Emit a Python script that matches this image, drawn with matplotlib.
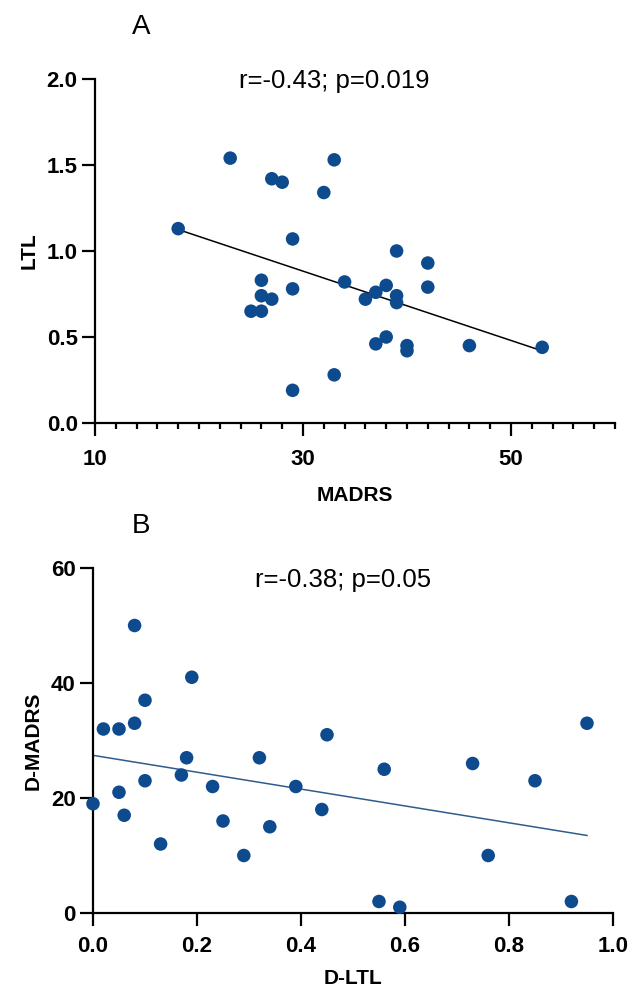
import matplotlib
matplotlib.use("Agg")
import matplotlib.pyplot as plt
import numpy as np
from matplotlib.ticker import MultipleLocator

plt.rcParams['font.family'] = ['Liberation Sans', 'DejaVu Sans']

# panel A: MADRS vs LTL
madrs = [18, 23, 27, 28, 33, 32, 29, 26, 29, 26, 27, 25, 26, 34, 33, 29,
         39, 42, 42, 38, 37, 36, 39, 39, 37, 38, 40, 40, 46, 53]
ltl = [1.13, 1.54, 1.42, 1.40, 1.53, 1.34, 1.07, 0.83, 0.78, 0.74, 0.72, 0.65,
       0.65, 0.82, 0.28, 0.19, 1.00, 0.93, 0.79, 0.80, 0.76, 0.72, 0.74, 0.70,
       0.46, 0.50, 0.45, 0.42, 0.45, 0.44]
stat_a = "r=-0.43; p=0.019"

# panel B: D-LTL vs D-MADRS
d_ltl = [0.00, 0.02, 0.05, 0.08, 0.08, 0.10, 0.05, 0.06, 0.10, 0.13, 0.19,
         0.18, 0.17, 0.23, 0.25, 0.29, 0.32, 0.34, 0.39, 0.44, 0.45, 0.56,
         0.55, 0.59, 0.73, 0.76, 0.85, 0.92, 0.95]
d_madrs = [19, 32, 32, 50, 33, 37, 21, 17, 23, 12, 41, 27, 24, 22, 16, 10, 27,
           15, 22, 18, 31, 25, 2, 1, 26, 10, 23, 2, 33]
stat_b = "r=-0.38; p=0.05"

dot_color = '#0e4a8e'


def style_axes(ax, xpad=6):
    for side in ['top', 'right']:
        ax.spines[side].set_visible(False)
    for side in ['left', 'bottom']:
        ax.spines[side].set_linewidth(1.6)
    ax.tick_params(which='major', direction='out', length=9.5, width=1.6,
                   labelsize=16, pad=3)
    ax.tick_params(axis='x', which='major', pad=xpad)
    ax.tick_params(which='minor', direction='out', length=4.5, width=1.6)
    for lab in ax.get_xticklabels() + ax.get_yticklabels():
        lab.set_fontweight('bold')


def scatter_fit(ax, x, y, line_color):
    x = np.asarray(x, dtype=float)
    y = np.asarray(y, dtype=float)
    ax.scatter(x, y, s=95, color=dot_color, edgecolors='none', zorder=3,
               clip_on=False)
    k, b = np.polyfit(x, y, 1)
    xx = np.array([x.min(), x.max()])
    ax.plot(xx, k * xx + b, color=line_color, lw=1.1, zorder=2)


fig = plt.figure(figsize=(6.3, 9.9), dpi=100)

# ---- A
ax1 = fig.add_axes([95 / 630, 1 - 423 / 990, 520 / 630, 344 / 990])
scatter_fit(ax1, madrs, ltl, 'black')
ax1.set_xlim(10, 60)
ax1.set_ylim(0, 2.0)
ax1.set_xticks([10, 30, 50])
ax1.xaxis.set_minor_locator(MultipleLocator(2))
ax1.set_yticks([0.0, 0.5, 1.0, 1.5, 2.0])
ax1.set_yticklabels(['0.0', '0.5', '1.0', '1.5', '2.0'])
style_axes(ax1, xpad=9)
ax1.set_xlabel('MADRS', fontsize=15, fontweight='bold', labelpad=12)
ax1.set_ylabel('LTL', fontsize=15, fontweight='bold', labelpad=6)
ax1.text(0.46, 0.975, stat_a, transform=ax1.transAxes, ha='center',
         va='baseline', fontsize=18.5)
fig.text(141 / 630, 1 - 27 / 990, 'A', ha='center', va='center', fontsize=20)

# ---- B
ax2 = fig.add_axes([93 / 630, 1 - 913 / 990, 520 / 630, 345 / 990])
scatter_fit(ax2, d_ltl, d_madrs, '#2f5c8a')
ax2.set_xlim(0, 1.0)
ax2.set_ylim(0, 60)
ax2.set_xticks([0.0, 0.2, 0.4, 0.6, 0.8, 1.0])
ax2.set_xticklabels(['0.0', '0.2', '0.4', '0.6', '0.8', '1.0'])
ax2.set_yticks([0, 20, 40, 60])
style_axes(ax2, xpad=7)
ax2.set_xlabel('D-LTL', fontsize=15, fontweight='bold', labelpad=9)
ax2.set_ylabel('D-MADRS', fontsize=15, fontweight='bold', labelpad=6)
ax2.text(0.48, 0.945, stat_b, transform=ax2.transAxes, ha='center',
         va='baseline', fontsize=18.5)
fig.text(141 / 630, 1 - 526 / 990, 'B', ha='center', va='center', fontsize=20)

fig.savefig('out.png', dpi=100)
